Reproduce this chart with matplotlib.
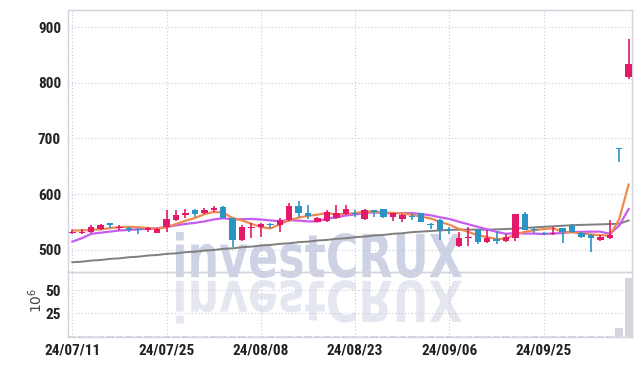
import matplotlib
matplotlib.use("Agg")
import matplotlib.pyplot as plt
import numpy as np
from matplotlib import font_manager
from matplotlib.textpath import TextPath
from matplotlib.patches import PathPatch
from matplotlib.transforms import Affine2D

# tick labels (trading-day index every 10 sessions)
tick_idx = [0, 10, 20, 30, 40, 50]
tick_labels = ["24/07/11", "24/07/25", "24/08/08", "24/08/23", "24/09/06", "24/09/25"]

opens = [530, 531, 533, 538, 548, 539, 539, 537.5, 535, 531,
         542, 554, 563, 572, 567, 571, 577, 557, 518, 540,
         541, 546.5, 545, 554, 579, 566, 551, 552, 557, 565,
         566, 556, 572, 573, 560, 556, 561, 566, 546, 554,
         537, 507, 521, 536, 514, 519, 517, 522, 565, 538,
         531, 528, 539, 543, 531, 527, 518, 522, 682, 811]
highs = [536, 537, 544, 547, 548, 545, 541, 539, 541, 540,
         572, 572, 574, 574, 575, 579, 579, 557, 545, 548,
         548, 549, 557, 585, 588, 581, 559, 571, 580, 581,
         571, 574, 572, 574, 567, 564, 564, 567, 549, 556,
         541, 532, 542, 537, 536, 534, 528, 565, 569, 542,
         532, 541, 540, 547, 532, 528, 526, 554, 683, 879]
lows = [528, 528, 531, 536, 539, 536, 533, 529, 533, 530,
        533, 552, 557, 560, 564, 568, 555, 506, 516, 521,
        524, 540, 533, 552, 560, 556, 550, 551, 555, 562,
        560, 554, 559, 558, 552, 551, 554, 550, 537, 518,
        528, 505, 508, 511, 512, 511, 514, 517, 535, 531,
        527, 527, 512, 531, 522, 497, 516, 520, 657, 806]
closes = [532, 533, 541, 545, 545, 541, 536, 536.5, 539, 538,
          556, 563, 566, 564, 572, 576, 557, 518, 542, 542,
          546, 545.5, 554, 579, 566, 561, 557, 569, 566, 573,
          565, 572, 569, 560, 566, 562, 559, 551, 545, 536,
          535, 522, 524, 514, 521, 517, 524, 565, 536, 535,
          528, 531, 532, 533, 523, 521, 524, 527, 681, 834]
# volume in millions of shares
volumes = [0.1] * 58 + [9, 64]

ma5 = [535, 535, 536, 537, 539.2, 541.0, 541.6, 540.7, 539.5, 538.1,
       541.1, 546.5, 552.4, 557.4, 564.2, 568.2, 567.0, 557.4, 553.0, 547.0,
       541.0, 538.7, 545.9, 553.3, 558.1, 561.1, 563.4, 566.4, 563.8, 565.2,
       566.0, 569.0, 569.0, 567.8, 566.4, 565.8, 563.2, 559.6, 556.6, 550.6,
       545.2, 537.8, 532.4, 526.2, 523.2, 519.6, 520.0, 528.2, 532.6, 535.4,
       537.6, 539.0, 532.4, 531.8, 529.4, 528.0, 526.6, 525.6, 555.2, 617.4]
ma10 = [515, 521, 529, 531, 533, 535, 536, 537, 538, 538.8,
        541.2, 544.2, 546.7, 548.6, 551.3, 554.8, 556.9, 555.0, 555.3, 555.7,
        554.7, 553.0, 551.8, 553.3, 552.7, 551.2, 551.2, 556.3, 558.7, 561.8,
        563.7, 566.3, 567.8, 565.9, 565.9, 566.0, 566.2, 564.4, 562.3, 558.6,
        555.6, 550.6, 546.1, 541.5, 537.0, 532.5, 529.0, 530.4, 529.5, 529.4,
        528.7, 529.6, 530.4, 532.3, 532.5, 532.9, 532.9, 529.1, 543.6, 573.5]
ma60 = [478, 479, 481, 482, 484, 485, 487, 488, 490, 491,
        493, 494, 496, 497, 499, 500, 502, 503, 505, 506,
        508, 509, 511, 512, 514, 515, 517, 518, 520, 521,
        523, 524, 526, 527, 529, 530, 532, 533, 534, 535,
        536, 536.5, 536.5, 536.5, 536.5, 537, 537.5, 538.5, 539.5, 540.5,
        541.5, 542.5, 543.5, 544.5, 545, 545.5, 546, 546.5, 547, 553]

UP = "#e5196a"
DOWN = "#2b93c6"
GRID = "#c9cadb"
SPINE = "#d2d3dd"

names = {f.name for f in font_manager.fontManager.ttflist}
label_font = next((n for n in ["Liberation Sans Narrow", "Roboto Condensed",
                               "DejaVu Sans"] if n in names), "DejaVu Sans")
tick_fp = font_manager.FontProperties(family=label_font, weight="bold",
                                      stretch="condensed", size=11)

W, H = 642, 366
fig = plt.figure(figsize=(W / 100, H / 100), dpi=100)
ax = fig.add_axes([68 / W, 1 - 272 / H, 564 / W, 262 / H])
axv = fig.add_axes([68 / W, 1 - 336.5 / H, 564 / W, 64.5 / H], sharex=ax)
for a in (ax, axv):
    a.set_facecolor("none")
    for s in a.spines.values():
        s.set_color(SPINE)
        s.set_linewidth(1)
    a.grid(True, color=GRID, linestyle=(0, (1, 2)), linewidth=0.8)
    a.set_axisbelow(True)
    a.tick_params(length=0, pad=5, colors="#222222")

# watermark + reflection
wm_fp = font_manager.FontProperties(family="DejaVu Sans", weight="bold")
tp = TextPath((0, 0), "investCRUX", size=100, prop=wm_fp)
bb = tp.get_extents()
x0, x1 = 176, 462
sx = (x1 - x0) / bb.width
sy_main = (278 - 232) / bb.height
t_main = (Affine2D().translate(-bb.x0, -bb.y0).scale(sx, sy_main)
          .translate(x0, H - 278))
fig.patches.append(PathPatch(tp, transform=t_main, facecolor="#c6cbe1",
                             edgecolor="none", alpha=0.85, zorder=-1))
t_mir = (Affine2D().translate(-bb.x0, -bb.y0).scale(sx, -sy_main * 0.95)
         .translate(x0, H - 280))
fig.patches.append(PathPatch(tp, transform=t_mir, facecolor="#e3e5ef",
                             edgecolor="none", alpha=0.9, zorder=-1))

x = np.arange(len(closes))
o = np.array(opens)
c = np.array(closes)
colors = [UP if cc >= oo else DOWN for oo, cc in zip(o, c)]
body_low = np.minimum(o, c)
body_h = np.maximum(np.abs(c - o), 1.6)

ax.plot(x, ma60, color="#7f7f7f", lw=1.4, zorder=2)
ax.plot(x, ma10, color="#c95cf0", lw=1.6, zorder=2)
ax.plot(x, ma5, color="#ef8a4e", lw=1.6, zorder=2)
ax.vlines(x, lows, highs, colors=colors, lw=1.2, zorder=3)
ax.bar(x, body_h, bottom=body_low, width=0.68, color=colors, zorder=4)

ax.set_ylim(460.5, 930.5)
ax.set_yticks([500, 600, 700, 800, 900])
ax.set_xlim(-0.46, 59.36)
ax.set_xticks(tick_idx)
ax.tick_params(axis="x", labelbottom=False)
for lab in ax.get_yticklabels():
    lab.set_fontproperties(tick_fp)

axv.bar(x, volumes, width=0.8, color="#d5d5dd", zorder=3)
axv.set_ylim(0, 70)
axv.set_yticks([25, 50])
axv.set_xticklabels(tick_labels)
for lab in axv.get_yticklabels() + axv.get_xticklabels():
    lab.set_fontproperties(tick_fp)
fig.text(36 / W, 1 - 300 / H, r"$10^6$", rotation=90, ha="center",
         va="center", fontsize=10, color="#444444")

fig.savefig("out.png", dpi=100)
